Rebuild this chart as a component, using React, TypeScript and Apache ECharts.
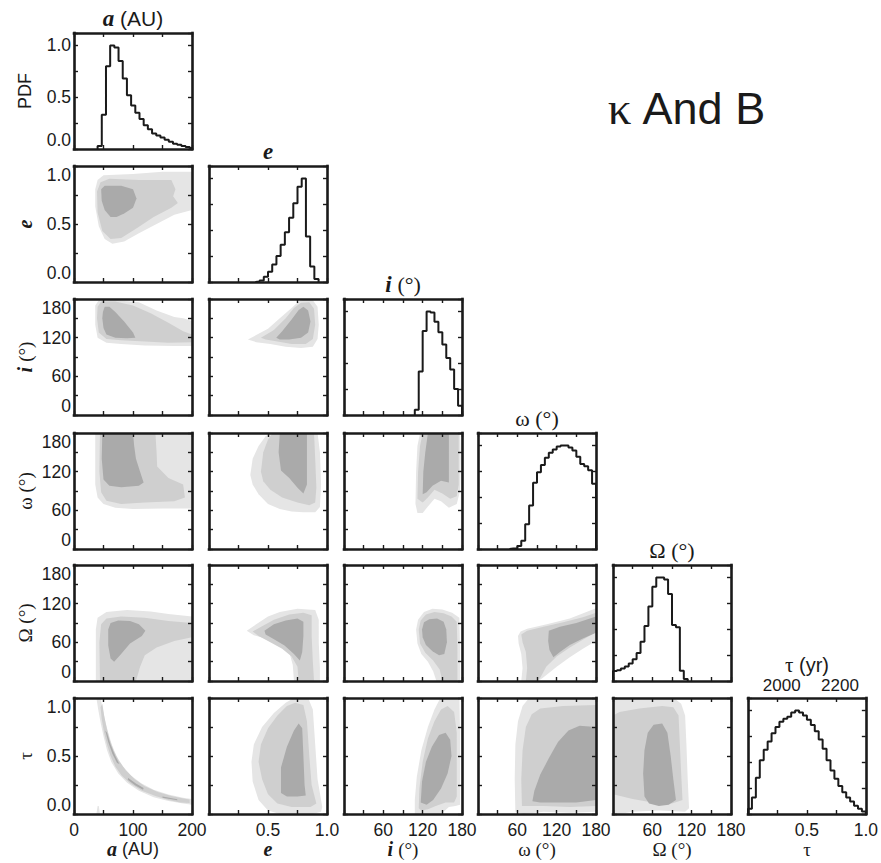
import React, { useEffect, useRef } from 'react';
import * as echarts from 'echarts';

const INK = '#1a1a1a';
const SANS = '"Liberation Sans", Arial, Helvetica, sans-serif';
const SERIF = '"Liberation Serif", "Times New Roman", serif';
const LEVEL_COLORS = ['#e5e5e5', '#cfcfcf', '#aaaaaa'];

// ---- variables (a, e, i, omega, Omega, tau) ----
const varMin = [0, 0, 0, 0, 0, 0];
const varMax = [200, 1, 180, 180, 180, 1];
const varTick = [50, 0.25, 30, 30, 30, 0.25];
const varDec = [0, 1, 0, 0, 0, 1];
const xTickLabels = [[0, 100, 200], [0.5, 1], [60, 120, 180], [60, 120, 180], [60, 120, 180], [0.5, 1]];
const yTickLabels = [[0, 0.5, 1], [0, 0.5, 1], [0, 60, 120, 180], [0, 60, 120, 180], [0, 60, 120, 180], [0, 0.5, 1]];
const pdfMax = 1.12;
const pdfTick = 0.25;
const pdfLabels = [0, 0.5, 1];
const tauYearMin = 1884;
const tauYearMax = 2289;
const tauYearLabels = [2000, 2200];

// ---- titles ----
const diagTitles = ['{b|a} (AU)', '{b|e}', '{b|i} {s|(°)}', '{s|ω (°)}', '{s|Ω (°)}', '{s|τ} (yr)'];
const bottomTitles = ['{b|a} (AU)', '{b|e}', '{b|i} {s|(°)}', '{s|ω (°)}', '{s|Ω (°)}', '{s|τ}'];
const leftTitles = ['PDF', '{b|e}', '{b|i} {s|(°)}', '{s|ω (°)}', '{s|Ω (°)}', '{s|τ}'];
const mainTitle = '{s|κ} And B';

// ---- marginal histograms (bin start, bin width, PDF values) ----
const aHistStart = 40;
const aHistWidth = 7.1;
const aHist = [0.03, 0.33, 0.8, 1.0, 0.98, 0.85, 0.68, 0.52, 0.42, 0.35, 0.29, 0.23, 0.19, 0.15, 0.13, 0.11, 0.09, 0.07, 0.05, 0.04, 0.03, 0.02, 0.01];
const eHistStart = 11 / 28;
const eHistWidth = 1 / 28;
const eHist = [0.005, 0.015, 0.05, 0.1, 0.17, 0.25, 0.36, 0.48, 0.62, 0.76, 0.92, 1.0, 0.44, 0.15, 0.03];
const iHistStart = 108;
const iHistWidth = 6;
const iHist = [0.05, 0.42, 0.81, 1.0, 0.99, 0.9, 0.8, 0.68, 0.55, 0.44, 0.25, 0.09];
const wHistStart = 48;
const wHistWidth = 6;
const wHist = [0.005, 0.005, 0.03, 0.08, 0.24, 0.42, 0.64, 0.74, 0.81, 0.88, 0.93, 0.96, 0.99, 1.0, 1.0, 0.98, 0.95, 0.89, 0.82, 0.8, 0.76, 0.63];
const oHistStart = 0;
const oHistWidth = 6;
const oHist = [0.096, 0.105, 0.12, 0.14, 0.17, 0.21, 0.27, 0.38, 0.53, 0.72, 0.91, 1.0, 1.0, 0.98, 0.84, 0.54, 0.52, 0.1, 0.02];
const tHistStart = 0;
const tHistWidth = 1 / 30;
const tHist = [0.05, 0.16, 0.35, 0.52, 0.62, 0.7, 0.78, 0.84, 0.89, 0.92, 0.94, 0.98, 1.0, 0.98, 0.95, 0.91, 0.86, 0.8, 0.72, 0.63, 0.52, 0.42, 0.34, 0.27, 0.21, 0.16, 0.12, 0.08, 0.05, 0.025];

// ---- 2D posterior contours: [level (0 outer,1 mid,2 inner), polygon in data coords] ----
const ctrAE = [
  [0, [[36, 0.8], [40, 0.88], [50, 0.92], [100, 0.93], [150, 0.95], [200, 0.95], [200, 0.62], [170, 0.58], [140, 0.5], [110, 0.42], [85, 0.35], [65, 0.33], [52, 0.37], [42, 0.48], [36, 0.65]]],
  [1, [[39, 0.78], [45, 0.86], [60, 0.89], [110, 0.88], [165, 0.88], [172, 0.8], [168, 0.74], [176, 0.68], [165, 0.64], [135, 0.56], [105, 0.46], [80, 0.38], [62, 0.37], [48, 0.44], [40, 0.6]]],
  [2, [[46, 0.8], [52, 0.83], [80, 0.83], [100, 0.8], [106, 0.72], [100, 0.64], [85, 0.59], [72, 0.56], [62, 0.56], [52, 0.62], [47, 0.7]]],
];
const ctrAI = [
  [0, [[36, 170], [42, 178], [70, 178], [110, 175], [140, 162], [170, 152], [185, 150], [200, 146], [200, 107], [170, 107], [120, 108], [80, 110], [55, 112], [40, 120], [36, 140]]],
  [1, [[40, 168], [46, 176], [70, 176], [100, 170], [130, 158], [160, 143], [185, 130], [200, 125], [200, 113], [160, 112], [120, 114], [80, 116], [55, 118], [42, 128], [39, 150]]],
  [2, [[49, 160], [52, 168], [60, 168], [70, 160], [85, 145], [100, 128], [104, 120], [90, 119], [70, 120], [55, 125], [50, 135], [48, 150]]],
];
const ctrAW = [
  [0, [[36, 180], [200, 180], [200, 63], [150, 63], [100, 62], [70, 64], [50, 70], [40, 80], [36, 100]]],
  [1, [[44, 180], [138, 180], [140, 150], [141, 128], [160, 110], [185, 100], [188, 80], [170, 74], [120, 72], [80, 70], [55, 75], [46, 88], [43, 120]]],
  [2, [[48, 180], [100, 180], [102, 160], [105, 140], [112, 120], [118, 103], [110, 98], [80, 96], [60, 98], [50, 108], [47, 140]]],
];
const ctrAO = [
  [0, [[37, 0], [37, 80], [40, 98], [55, 107], [90, 110], [130, 108], [160, 104], [200, 100], [200, 0]]],
  [1, [[44, 0], [43, 60], [46, 88], [55, 97], [80, 100], [120, 98], [160, 93], [200, 90], [200, 68], [170, 62], [140, 52], [120, 40], [112, 22], [105, 0]]],
  [2, [[58, 80], [62, 90], [75, 94], [95, 93], [110, 88], [121, 78], [115, 70], [95, 58], [78, 40], [68, 30], [62, 35], [58, 55]]],
];
const ctrAT = [
  [0, [[45, 1.0], [49, 0.9], [53, 0.8], [58, 0.7], [64, 0.6], [72, 0.5], [83, 0.41], [97, 0.33], [114, 0.265], [135, 0.21], [160, 0.168], [185, 0.14], [200, 0.13], [200, 0.08], [185, 0.09], [160, 0.112], [135, 0.145], [110, 0.2], [90, 0.27], [75, 0.35], [63, 0.45], [56, 0.55], [50, 0.67], [45, 0.79], [41, 0.9], [38, 1.0]]],
  [0, [[38, 0], [40, 0.07], [42, 0.07], [44, 0]]],
  [1, [[48, 0.95], [51, 0.85], [55, 0.75], [60, 0.65], [67, 0.55], [76, 0.46], [88, 0.375], [103, 0.3], [120, 0.24], [142, 0.19], [165, 0.155], [190, 0.13], [196, 0.125], [196, 0.095], [180, 0.1], [160, 0.12], [138, 0.155], [115, 0.2], [96, 0.26], [81, 0.33], [70, 0.41], [62, 0.5], [56, 0.6], [51, 0.7], [47, 0.82], [45, 0.92]]],
  [2, [[53, 0.72], [58, 0.62], [65, 0.52], [73, 0.44], [77, 0.43], [70, 0.5], [62, 0.6], [56, 0.7]]],
  [2, [[92, 0.31], [105, 0.262], [118, 0.225], [117, 0.21], [104, 0.245], [91, 0.295]]],
  [2, [[150, 0.15], [175, 0.128], [175, 0.118], [150, 0.14]]],
];
const ctrEI = [
  [0, [[0.33, 117], [0.4, 124], [0.5, 134], [0.6, 150], [0.7, 166], [0.76, 176], [0.82, 180], [0.88, 178], [0.92, 168], [0.93, 140], [0.92, 118], [0.88, 106], [0.78, 104], [0.65, 106], [0.52, 110], [0.4, 113]]],
  [1, [[0.44, 120], [0.55, 132], [0.65, 150], [0.72, 166], [0.78, 174], [0.85, 175], [0.89, 165], [0.9, 140], [0.88, 118], [0.82, 110], [0.7, 110], [0.58, 114], [0.48, 117]]],
  [2, [[0.57, 120], [0.62, 130], [0.7, 148], [0.76, 163], [0.8, 168], [0.84, 162], [0.86, 145], [0.84, 128], [0.78, 120], [0.68, 117], [0.6, 117]]],
];
const ctrEW = [
  [0, [[0.35, 115], [0.37, 140], [0.42, 160], [0.48, 175], [0.52, 180], [0.92, 180], [0.94, 150], [0.95, 100], [0.94, 65], [0.9, 57], [0.8, 57], [0.7, 58], [0.6, 62], [0.5, 70], [0.42, 85], [0.37, 100]]],
  [1, [[0.44, 120], [0.46, 150], [0.5, 170], [0.54, 180], [0.89, 180], [0.9, 140], [0.91, 95], [0.9, 72], [0.85, 68], [0.75, 72], [0.62, 80], [0.52, 92], [0.46, 105]]],
  [2, [[0.6, 180], [0.83, 180], [0.83, 140], [0.83, 100], [0.8, 86], [0.75, 95], [0.68, 110], [0.61, 122], [0.59, 150]]],
];
const ctrEO = [
  [0, [[0.32, 78], [0.4, 88], [0.5, 100], [0.6, 107], [0.75, 112], [0.9, 110], [0.93, 95], [0.93, 60], [0.94, 20], [0.94, 0], [0.72, 0], [0.71, 25], [0.68, 45], [0.6, 58], [0.48, 66], [0.38, 71]]],
  [1, [[0.37, 77], [0.45, 85], [0.55, 95], [0.68, 103], [0.8, 106], [0.87, 102], [0.87, 70], [0.88, 30], [0.89, 0], [0.76, 0], [0.75, 22], [0.7, 38], [0.62, 50], [0.5, 62], [0.42, 70]]],
  [2, [[0.47, 78], [0.55, 88], [0.65, 94], [0.75, 97], [0.8, 92], [0.8, 70], [0.79, 45], [0.77, 32], [0.72, 42], [0.64, 55], [0.54, 66], [0.48, 72]]],
];
const ctrET = [
  [0, [[0.36, 0.45], [0.38, 0.6], [0.45, 0.75], [0.55, 0.87], [0.65, 0.96], [0.72, 1.0], [0.84, 1.0], [0.88, 0.9], [0.9, 0.6], [0.92, 0.3], [0.96, 0.06], [0.95, 0.02], [0.88, 0.0], [0.6, 0.0], [0.5, 0.03], [0.42, 0.12], [0.37, 0.28]]],
  [1, [[0.42, 0.45], [0.44, 0.6], [0.5, 0.74], [0.58, 0.85], [0.66, 0.93], [0.73, 0.96], [0.8, 0.94], [0.83, 0.8], [0.85, 0.5], [0.87, 0.25], [0.91, 0.09], [0.86, 0.06], [0.7, 0.06], [0.58, 0.09], [0.5, 0.17], [0.45, 0.3]]],
  [2, [[0.61, 0.18], [0.61, 0.4], [0.66, 0.58], [0.72, 0.72], [0.76, 0.78], [0.79, 0.74], [0.8, 0.5], [0.81, 0.25], [0.82, 0.16], [0.75, 0.15], [0.66, 0.15]]],
];
const ctrIW = [
  [0, [[109, 70], [110, 120], [112, 160], [116, 180], [177, 180], [178, 140], [177, 90], [172, 70], [160, 64], [148, 74], [138, 78], [128, 66], [120, 56], [112, 56]]],
  [1, [[112, 78], [113, 120], [116, 160], [120, 180], [175, 180], [175, 140], [175, 100], [172, 82], [162, 78], [150, 86], [138, 92], [128, 80], [120, 72]]],
  [2, [[120, 85], [121, 120], [124, 150], [128, 180], [160, 180], [160, 140], [160, 103], [148, 106], [135, 98], [126, 88]]],
];
const ctrIO = [
  [0, [[110, 80], [113, 95], [122, 107], [135, 112], [150, 111], [165, 106], [176, 98], [177, 50], [177, 0], [141, 0], [136, 15], [128, 30], [118, 42], [112, 58]]],
  [1, [[114, 80], [117, 94], [125, 103], [138, 107], [152, 105], [164, 100], [172, 92], [173, 50], [173, 0], [150, 0], [146, 18], [136, 32], [124, 44], [116, 58]]],
  [2, [[119, 80], [122, 91], [130, 96], [142, 97], [152, 92], [156, 80], [157, 60], [153, 42], [145, 40], [135, 46], [125, 56], [120, 68]]],
];
const ctrIT = [
  [0, [[108, 0], [108, 0.12], [111, 0.32], [118, 0.55], [128, 0.75], [138, 0.9], [146, 0.99], [150, 1.0], [176, 1.0], [177, 0.7], [177, 0.3], [177, 0.08], [170, 0.07], [160, 0.06], [152, 0.02], [150, 0]]],
  [1, [[114, 0.05], [115, 0.22], [120, 0.45], [128, 0.65], [138, 0.8], [148, 0.9], [158, 0.93], [168, 0.88], [172, 0.7], [172, 0.4], [172, 0.15], [168, 0.1], [155, 0.1], [140, 0.07], [128, 0.04], [118, 0.03]]],
  [2, [[117, 0.1], [119, 0.28], [125, 0.45], [134, 0.58], [145, 0.68], [155, 0.7], [162, 0.64], [164, 0.5], [158, 0.35], [148, 0.22], [136, 0.12], [126, 0.08]]],
];
const ctrWO = [
  [0, [[61, 70], [65, 77], [75, 81], [105, 88], [140, 97], [180, 113], [180, 62], [160, 50], [140, 37], [120, 22], [100, 6], [92, 0], [66, 0], [68, 20], [66, 42], [62, 58]]],
  [1, [[66, 72], [75, 78], [100, 84], [130, 91], [160, 99], [180, 106], [180, 76], [160, 64], [140, 52], [120, 38], [104, 22], [95, 5], [90, 0], [73, 0], [75, 20], [73, 45], [68, 60]]],
  [2, [[107, 62], [108, 78], [125, 84], [150, 90], [180, 100], [180, 75], [160, 66], [140, 56], [125, 45], [115, 37], [109, 48]]],
];
const ctrWT = [
  [0, [[57, 0.02], [56, 0.3], [57, 0.6], [61, 0.8], [68, 0.93], [78, 1.0], [180, 1.0], [180, 0.02], [140, 0.01], [100, 0.02], [70, 0.0]]],
  [1, [[67, 0.07], [66, 0.3], [68, 0.55], [73, 0.75], [82, 0.86], [95, 0.91], [130, 0.93], [180, 0.94], [180, 0.07], [140, 0.06], [100, 0.07], [78, 0.07]]],
  [2, [[83, 0.11], [86, 0.2], [95, 0.34], [108, 0.48], [122, 0.62], [138, 0.72], [155, 0.76], [180, 0.75], [180, 0.12], [150, 0.1], [120, 0.1], [95, 0.1]]],
];
const ctrOT = [
  [0, [[0, 0.0], [0, 1.0], [20, 1.0], [95, 0.99], [104, 0.95], [110, 0.85], [112, 0.6], [114, 0.3], [116, 0.05], [110, 0.02], [70, 0.03], [30, 0.02], [10, 0.0]]],
  [1, [[0, 0.17], [0, 0.85], [10, 0.88], [40, 0.91], [75, 0.93], [92, 0.92], [100, 0.85], [102, 0.6], [104, 0.35], [106, 0.12], [90, 0.09], [60, 0.1], [30, 0.13]]],
  [2, [[48, 0.15], [46, 0.35], [48, 0.55], [53, 0.7], [62, 0.77], [75, 0.78], [83, 0.7], [88, 0.5], [92, 0.3], [96, 0.12], [85, 0.08], [70, 0.07], [55, 0.09]]],
];

// ---- layout ----
const W = 881;
const H = 863;
const COL_LEFT = [74, 209, 344, 478, 613, 748];
const ROW_TOP = [33, 166, 299, 433, 565, 698];
const PW = 118;
const PH = 116;

const histStarts = [aHistStart, eHistStart, iHistStart, wHistStart, oHistStart, tHistStart];
const histWidths = [aHistWidth, eHistWidth, iHistWidth, wHistWidth, oHistWidth, tHistWidth];
const histValues = [aHist, eHist, iHist, wHist, oHist, tHist];
const contourOf: Record<string, any[]> = {
  '1-0': ctrAE, '2-0': ctrAI, '3-0': ctrAW, '4-0': ctrAO, '5-0': ctrAT,
  '2-1': ctrEI, '3-1': ctrEW, '4-1': ctrEO, '5-1': ctrET,
  '3-2': ctrIW, '4-2': ctrIO, '5-2': ctrIT,
  '4-3': ctrWO, '5-3': ctrWT,
  '5-4': ctrOT,
};

function richFor(size: number) {
  return {
    b: { fontFamily: SERIF, fontStyle: 'italic', fontWeight: 'bold', fontSize: size + 2, fill: INK },
    s: { fontFamily: SERIF, fontSize: size + 1, fill: INK },
  };
}

function makeFormatter(labels: number[] | null, dec: number) {
  return (v: number) => (labels && labels.some((l) => Math.abs(l - v) < 1e-6) ? v.toFixed(dec) : '');
}

function makeAxis(gridIndex: number, position: string, min: number, max: number, interval: number,
  labels: number[] | null, dec: number, vertical: boolean) {
  const axis: any = {
    type: 'value', gridIndex, position, min, max, interval, z: 10,
    axisLine: { show: true, onZero: false, lineStyle: { color: INK, width: 2.6, cap: 'square' } },
    axisTick: { show: true, inside: true, length: 4, lineStyle: { color: INK, width: 1.4 } },
    splitLine: { show: false },
    minorTick: { show: false },
    axisLabel: { show: false },
  };
  if (labels) {
    axis.axisLabel = {
      show: true, color: INK, fontFamily: SANS, fontSize: 17.5,
      margin: vertical ? 3 : 7,
      showMinLabel: true, showMaxLabel: true,
      formatter: makeFormatter(labels, dec),
    };
    if (vertical) {
      axis.axisLabel.verticalAlignMinLabel = 'bottom';
      axis.axisLabel.verticalAlignMaxLabel = 'top';
    }
  }
  return axis;
}

function histPoints(start: number, width: number, vals: number[]) {
  const pts: number[][] = [[start, 0]];
  vals.forEach((v, k) => pts.push([start + k * width, v]));
  pts.push([start + vals.length * width, 0]);
  return pts;
}

function buildOption() {
  const grid: any[] = [];
  const xAxis: any[] = [];
  const yAxis: any[] = [];
  const series: any[] = [];
  for (let r = 0; r < 6; r++) {
    for (let c = 0; c <= r; c++) {
      const g = grid.length;
      grid.push({ left: COL_LEFT[c], top: ROW_TOP[r], width: PW, height: PH, containLabel: false });
      const diag = r === c;
      const xi = xAxis.length;
      xAxis.push(makeAxis(g, 'bottom', varMin[c], varMax[c], varTick[c], r === 5 ? xTickLabels[c] : null, varDec[c], false));
      xAxis.push(makeAxis(g, 'top', varMin[c], varMax[c], varTick[c], null, varDec[c], false));
      const yi = yAxis.length;
      if (diag) {
        yAxis.push(makeAxis(g, 'left', 0, pdfMax, pdfTick, c === 0 ? pdfLabels : null, 1, true));
        yAxis.push(makeAxis(g, 'right', 0, pdfMax, pdfTick, null, 1, true));
      } else {
        yAxis.push(makeAxis(g, 'left', varMin[r], varMax[r], varTick[r], c === 0 ? yTickLabels[r] : null, varDec[r], true));
        yAxis.push(makeAxis(g, 'right', varMin[r], varMax[r], varTick[r], null, varDec[r], true));
      }
      if (diag) {
        series.push({
          type: 'line', xAxisIndex: xi, yAxisIndex: yi, step: 'end', showSymbol: false, symbol: 'none',
          data: histPoints(histStarts[c], histWidths[c], histValues[c]),
          lineStyle: { color: INK, width: 2 }, clip: true, silent: true, z: 5,
        });
        if (c === 5) {
          xAxis.push({
            type: 'value', gridIndex: g, position: 'top', min: tauYearMin, max: tauYearMax, interval: 4,
            axisLine: { show: false }, axisTick: { show: false }, splitLine: { show: false },
            axisLabel: {
              show: true, color: INK, fontFamily: SANS, fontSize: 17, margin: 4,
              formatter: (v: number) => (tauYearLabels.indexOf(Math.round(v)) >= 0 && Math.abs(v - Math.round(v)) < 1e-6 ? String(Math.round(v)) : ''),
            },
          });
        }
      } else {
        const polys = contourOf[`${r}-${c}`];
        series.push({
          type: 'custom', coordinateSystem: 'cartesian2d', xAxisIndex: xi, yAxisIndex: yi,
          clip: true, silent: true, z: 1,
          data: polys.map((p: any, k: number) => [p[1][0][0], p[1][0][1], k]),
          renderItem: (params: any, api: any) => {
            const p = polys[params.dataIndex];
            const pts = p[1].map((q: number[]) => api.coord(q));
            return { type: 'polygon', shape: { points: pts }, style: { fill: LEVEL_COLORS[p[0]], stroke: null } };
          },
        });
      }
    }
  }

  const graphic: any[] = [];
  const textStyle = (text: string, size: number) => ({
    text, rich: richFor(size), fontFamily: SANS, fontSize: size, fill: INK, align: 'center', verticalAlign: 'middle',
  });
  for (let k = 0; k < 6; k++) {
    const cx = COL_LEFT[k] + PW / 2;
    graphic.push({ type: 'text', x: cx, y: k === 5 ? ROW_TOP[5] - 33 : ROW_TOP[k] - 15, style: textStyle(diagTitles[k], k === 5 ? 20 : 21), silent: true });
    graphic.push({ type: 'text', x: cx, y: 849, style: textStyle(bottomTitles[k], 18), silent: true });
    graphic.push({ type: 'text', x: 25, y: ROW_TOP[k] + PH / 2, rotation: Math.PI / 2, style: textStyle(leftTitles[k], 18), silent: true });
  }
  graphic.push({
    type: 'text', x: 687, y: 108, silent: true,
    style: {
      text: mainTitle, fontFamily: SANS, fontSize: 45, fill: INK, align: 'center', verticalAlign: 'middle',
      rich: { s: { fontFamily: SERIF, fontSize: 47, fill: INK } },
    },
  });

  return { animation: false, backgroundColor: '#ffffff', grid, xAxis, yAxis, series, graphic };
}

export default function App() {
  const ref = useRef<HTMLDivElement>(null);
  useEffect(() => {
    if (!ref.current) return;
    const chart = echarts.init(ref.current, undefined, { renderer: 'svg' });
    chart.setOption(buildOption() as any);
    return () => chart.dispose();
  }, []);
  return <div ref={ref} style={{ position: 'fixed', left: 0, top: 0, width: W, height: H, background: '#fff' }} />;
}
